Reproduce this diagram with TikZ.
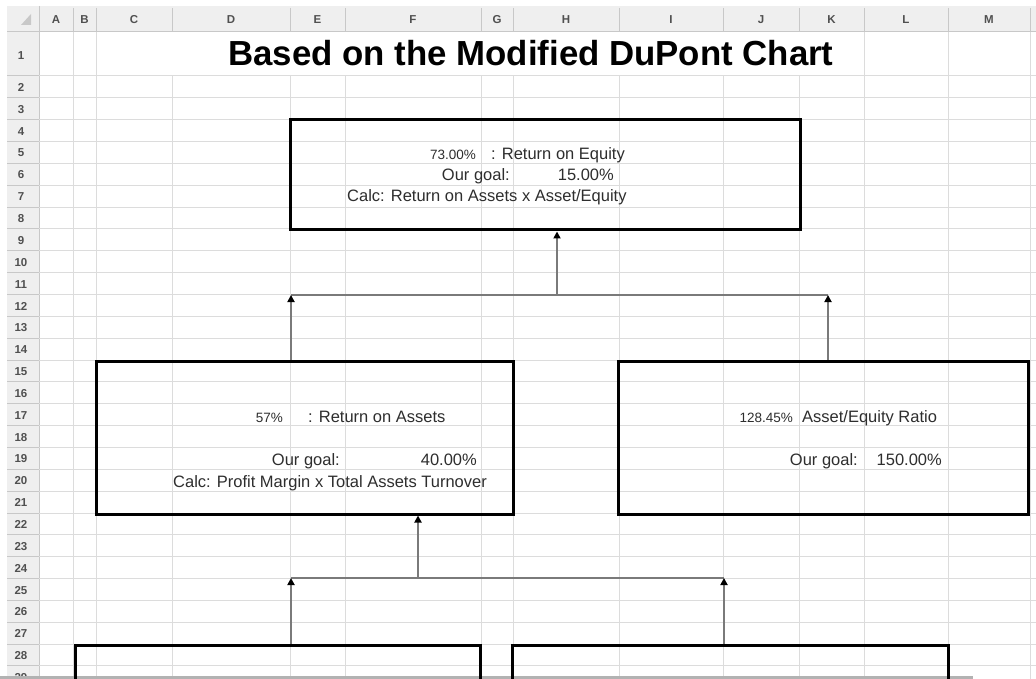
\documentclass[tikz,border=0pt]{standalone}
\usepackage{fontspec}
\setmainfont{Liberation Sans}
\usetikzlibrary{arrows.meta}
\definecolor{gridc}{HTML}{DCDCDC}
\definecolor{hdrc}{HTML}{EFEFEF}
\definecolor{hdrline}{HTML}{C8C8C8}
\definecolor{hdrtext}{HTML}{505050}
\definecolor{connc}{HTML}{7A7A7A}
\definecolor{txtc}{HTML}{2E2E2E}
\tikzset{
  gridline/.style={gridc, line width=1pt},
  hdrdiv/.style={hdrline, line width=1pt},
  hdrlabel/.style={text=hdrtext, font=\fontsize{11.5}{11.5}\selectfont\bfseries, inner sep=0pt},
  chartbox/.style={draw=black, line width=3pt, inner sep=0pt, fill=none},
  conn/.style={connc, line width=2pt},
  upconn/.style={conn, -{Triangle[width=7pt,length=7pt,color=black]}},
  bodytext/.style={text=txtc, font=\fontsize{16.5}{16.5}\selectfont, inner sep=0pt, anchor=base west},
  bodytextr/.style={bodytext, anchor=base east},
  valtext/.style={text=txtc, font=\fontsize{13.5}{13.5}\selectfont, inner sep=0pt, anchor=base east},
  titletext/.style={font=\fontsize{34.8}{34.8}\selectfont\bfseries, inner sep=0pt, anchor=base}
}
\begin{document}
\begin{tikzpicture}[x=1pt,y=-1pt]
\clip (0,0) rectangle (1036,679);
\fill[white] (0,0) rectangle (1036,679);
% header band and row header column
\fill[hdrc] (7,6) rectangle (1036,32);
\fill[hdrc] (7,6) rectangle (39,679);
\draw[hdrdiv] (7,32) -- (1036,32);
\draw[hdrdiv] (39,6) -- (39,679);
\fill[hdrline] (31,14) -- (31,25) -- (21,25) -- cycle;
% column dividers in header
\foreach \cx in {73,96,172,290,345,481,513,619,723,799,864,948,1030}
  \draw[hdrdiv] (\cx,8) -- (\cx,32);
% column letters
\foreach \cx/\cl in {56/A,84.5/B,134/C,231/D,317.5/E,413/F,497/G,566/H,671/I,761/J,831.5/K,906/L,989/M}
  \node[hdrlabel] (col\cl) at (\cx,20) {\cl};
% row dividers in header column and gridlines
\draw[hdrdiv] (7,76) -- (39,76);
\draw[gridline] (39,76) -- (1036,76);
\foreach \k in {1,...,28}{
  \pgfmathsetmacro{\ry}{76+21.85*\k}
  \draw[hdrdiv] (7,\ry) -- (39,\ry);
  \draw[gridline] (39,\ry) -- (1036,\ry);
}
% vertical gridlines
\foreach \cx in {73,96,172,290,345,481,513,619,723,799,864,948,1030}
  \draw[gridline] (\cx,76) -- (\cx,679);
\foreach \cx in {73,96,864,948,1030}
  \draw[gridline] (\cx,32) -- (\cx,76);
% row numbers
\node[hdrlabel] (row1) at (21,56) {1};
\foreach \n in {2,...,29}{
  \pgfmathsetmacro{\ly}{76+21.85*(\n-2)+11.5}
  \node[hdrlabel] (row\n) at (21,\ly) {\n};
}
% bottom bar
\draw[black!30, line width=2.5pt] (0,677.5) -- (973,677.5);
% title
\node[titletext] (title) at (531,66) {Based on the Modified DuPont Chart};
% boxes
\node[chartbox, minimum width=510pt, minimum height=110pt] (topbox) at (545,175) {};
\node[chartbox, minimum width=417pt, minimum height=153pt] (lbox) at (304.5,437.5) {};
\node[chartbox, minimum width=410pt, minimum height=153pt] (rbox) at (823,437.5) {};
\node[chartbox, minimum width=405pt, minimum height=60pt] (blbox) at (277.5,675) {};
\node[chartbox, minimum width=436pt, minimum height=60pt] (brbox) at (730,675) {};
% top box text
\node[valtext] (roeval) at (476,160) {73.00\%};
\node[bodytext] (roelab) at (491,160) {: Return on Equity};
\node[bodytextr] (roegoal) at (510,181) {Our goal:};
\node[bodytextr] (roegoalv) at (614,181) {15.00\%};
\node[bodytext] (roecalc) at (347,202) {Calc: Return on Assets x Asset/Equity};
% left box text
\node[valtext] (roaval) at (283,422) {57\%};
\node[bodytext] (roalab) at (308,422) {: Return on Assets};
\node[bodytextr] (roagoal) at (340,465) {Our goal:};
\node[bodytextr] (roagoalv) at (477,465) {40.00\%};
\node[bodytext] (roacalc) at (173,487) {Calc: Profit Margin x Total Assets Turnover};
% right box text
\node[valtext] (aeval) at (793,422) {128.45\%};
\node[bodytext] (aelab) at (802,422) {Asset/Equity Ratio};
\node[bodytextr] (aegoal) at (858,465) {Our goal:};
\node[bodytextr] (aegoalv) at (942,465) {150.00\%};
% connectors upper
\coordinate (j1) at (557,295);
\coordinate (j1l) at (291,295);
\coordinate (j1r) at (828,295);
\draw[conn] (j1l) -- (j1r);
\draw[upconn] (j1) -- (j1 |- topbox.south);
\draw[upconn] (lbox.north -| j1l) -- (j1l);
\draw[upconn] (rbox.north -| j1r) -- (j1r);
% connectors lower
\coordinate (j2) at (418,578);
\coordinate (j2l) at (291,578);
\coordinate (j2r) at (724,578);
\draw[conn] (j2l) -- (j2r);
\draw[upconn] (j2) -- (j2 |- lbox.south);
\draw[upconn] (blbox.north -| j2l) -- (j2l);
\draw[upconn] (brbox.north -| j2r) -- (j2r);
\end{tikzpicture}
\end{document}
